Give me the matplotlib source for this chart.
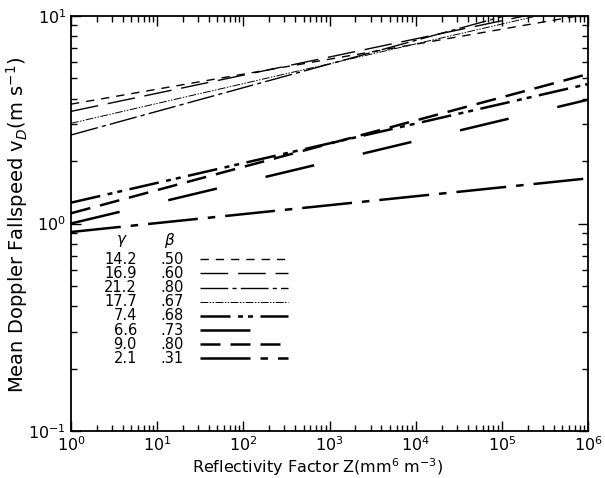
import numpy as np
import matplotlib
matplotlib.use('Agg')
import matplotlib.pyplot as plt
from matplotlib.ticker import LogLocator, NullFormatter

# gamma, beta pairs from the key, and fallspeed read at Z = 1 and Z = 1e6
gammas = ['14.2', '16.9', '21.2', '17.7', '7.4', '6.6', '9.0', '2.1']
betas = ['.50', '.60', '.80', '.67', '.68', '.73', '.80', '.31']
z_ends = [1.0, 1.0e6]
v_start = [3.76, 3.47, 2.67, 3.04, 1.26, 1.00, 1.12, 0.91]
v_end = [10.2, 11.6, 12.9, 11.4, 4.70, 3.95, 5.25, 1.65]

# line look for each curve (dash pattern in points, width)
styles = [
    ((0, (6, 5)), 1.0),
    ((0, (20, 7)), 1.0),
    ((0, (20, 3, 3, 3)), 1.0),
    ((0, (8, 1.5, 1.5, 1.5, 1.5, 1.5)), 0.7),
    ((0, (12, 3, 2, 2, 2, 3)), 1.8),
    ((0, (20, 20)), 1.8),
    ((0, (8, 4)), 1.8),
    ((0, (20, 4, 3, 4)), 1.8),
]

plt.rcParams['font.family'] = 'DejaVu Sans'
fig = plt.figure(figsize=(6.05, 4.78), dpi=100)
ax = fig.add_axes([71 / 605, 1 - 431 / 478, 517 / 605, 415 / 478])

for i in range(len(gammas)):
    ls, lw = styles[i]
    ax.plot(z_ends, [v_start[i], v_end[i]], color='black', linestyle=ls, linewidth=lw,
            dash_capstyle='butt')

ax.set_xscale('log')
ax.set_yscale('log')
ax.set_xlim(1, 1e6)
ax.set_ylim(0.1, 10)

ax.xaxis.set_major_locator(LogLocator(base=10, numticks=10))
ax.xaxis.set_minor_locator(LogLocator(base=10, subs=np.arange(2, 10), numticks=100))
ax.yaxis.set_minor_locator(LogLocator(base=10, subs=np.arange(2, 10), numticks=100))
ax.xaxis.set_minor_formatter(NullFormatter())
ax.yaxis.set_minor_formatter(NullFormatter())
ax.tick_params(which='both', direction='in', top=True, right=True, labelsize=11.5)
ax.tick_params(which='major', length=7, width=1)
ax.tick_params(which='minor', length=4, width=1)
ax.tick_params(axis='x', pad=3)
for s in ax.spines.values():
    s.set_linewidth(1.3)

ax.set_xlabel('Reflectivity Factor Z(mm$^6$ m$^{-3}$)', fontsize=11.5)
ax.set_ylabel('Mean Doppler Fallspeed v$_D$(m s$^{-1}$)', fontsize=14)
ax.xaxis.set_label_coords(0.477, -0.062)
ax.yaxis.set_label_coords(-0.079, 0.4976)

# hand-drawn key inside the plot
inv = ax.transAxes.inverted()
def to_axes(px, py):
    # figure pixel position -> axes fraction
    return inv.transform(fig.transFigure.transform((px / 605, (478 - py) / 478)))

hx, hy = to_axes(122, 241)
ax.text(hx, hy, r'$\gamma$', transform=ax.transAxes, fontsize=11, ha='center', va='center')
hx, hy = to_axes(170, 241)
ax.text(hx, hy, r'$\beta$', transform=ax.transAxes, fontsize=11, ha='center', va='center')
for i in range(len(gammas)):
    row_y = 259.3 + i * 14.15
    gx, gy = to_axes(137, row_y)
    ax.text(gx, gy, gammas[i], transform=ax.transAxes, fontsize=10.5, ha='right', va='center')
    bx, by = to_axes(160, row_y)
    ax.text(bx, by, betas[i], transform=ax.transAxes, fontsize=10.5, ha='left', va='center')
    x0, y0 = to_axes(200, row_y)
    x1, y1 = to_axes(288, row_y)
    ls, lw = styles[i]
    ax.plot([x0, x1], [y0, y1], transform=ax.transAxes, color='black', linestyle=ls,
            linewidth=lw, dash_capstyle='butt')

fig.savefig('out.png', dpi=100)
